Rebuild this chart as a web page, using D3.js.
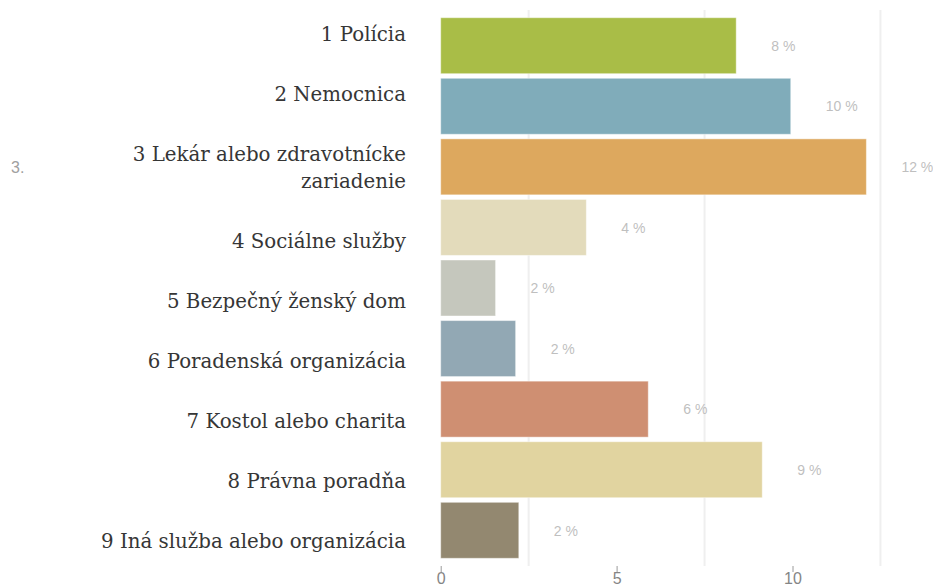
<!DOCTYPE html>
<html>
<head>
<meta charset="utf-8">
<script src="https://cdn.jsdelivr.net/npm/d3@7"></script>
<style>
  body { margin: 0; background: #fff; }
  .category { font-family: "DejaVu Serif", serif; font-size: 19.8px; fill: #363636; }
  .value-label { font-family: "Liberation Sans", Arial, sans-serif; font-size: 14px; fill: #bfbfbf; }
  .x-axis text { font-family: "Liberation Sans", Arial, sans-serif; font-size: 16px; fill: #858585; }
  .x-axis line { stroke: #9a9a9a; }
  .stray { font-family: "Liberation Sans", Arial, sans-serif; font-size: 16px; fill: #a0a0a0; }
</style>
</head>
<body>
<div id="wrapper"></div>
<script>
const categories = [
  ["1 Polícia"],
  ["2 Nemocnica"],
  ["3 Lekár alebo zdravotnícke", "zariadenie"],
  ["4 Sociálne služby"],
  ["5 Bezpečný ženský dom"],
  ["6 Poradenská organizácia"],
  ["7 Kostol alebo charita"],
  ["8 Právna poradňa"],
  ["9 Iná služba alebo organizácia"],
];
const values = [8.4, 9.95, 12.1, 4.14, 1.56, 2.13, 5.9, 9.14, 2.22];
const percentLabels = ["8 %", "10 %", "12 %", "4 %", "2 %", "2 %", "6 %", "9 %", "2 %"];
const barColors = ["#a9bd47", "#80acba", "#dda85e", "#e3dbbb", "#c5c7bd", "#92a8b4", "#cf8f72", "#e1d4a0", "#938870"];
const tickValues = [0, 5, 10];
const gridValues = [2.5, 7.5, 12.5];

function drawChart() {
  const dimensions = {
    width: 933,
    height: 587,
    barTop: 17.7,
    barBottom: 558.3,
    gridTop: 10,
    axisY: 566,
    labelRight: 406,
  };

  const svg = d3.select("#wrapper")
    .append("svg")
      .attr("width", dimensions.width)
      .attr("height", dimensions.height);

  // x(0) sits at 440.7, x(10) at 792.5
  const xScale = d3.scaleLinear()
    .domain([0, 10])
    .range([440.7, 792.5]);

  const yScale = d3.scaleBand()
    .domain(d3.range(values.length))
    .range([dimensions.barTop, dimensions.barBottom])
    .paddingInner(0.0755)
    .paddingOuter(0);

  // grid lines sit half way between the ticks
  svg.append("g")
    .selectAll("line")
    .data(gridValues)
    .join("line")
      .attr("x1", d => xScale(d))
      .attr("x2", d => xScale(d))
      .attr("y1", dimensions.gridTop)
      .attr("y2", dimensions.axisY)
      .attr("stroke", "#efefef")
      .attr("stroke-width", 2);

  svg.append("g")
    .selectAll("rect")
    .data(values)
    .join("rect")
      .attr("x", xScale(0))
      .attr("y", (d, i) => yScale(i))
      .attr("width", d => xScale(d) - xScale(0))
      .attr("height", yScale.bandwidth())
      .attr("fill", (d, i) => barColors[i])
      .attr("stroke", "rgba(255,255,255,0.45)")
      .attr("stroke-width", 1);

  svg.append("g")
    .selectAll("text")
    .data(values)
    .join("text")
      .attr("class", "value-label")
      .attr("x", d => xScale(d) + 35)
      .attr("y", (d, i) => yScale(i) + yScale.bandwidth() / 2 + 1.5)
      .attr("dominant-baseline", "middle")
      .text((d, i) => percentLabels[i]);

  // category labels flow like a list, the two line one pushes the rest down
  const lineHeight = 27.6;
  const labelStep = 60;
  let baseline = 40.7;
  const labelGroup = svg.append("g");
  categories.forEach((lines, i) => {
    const text = labelGroup.append("text")
      .attr("class", "category")
      .attr("text-anchor", "end");
    lines.forEach((line, j) => {
      text.append("tspan")
        .attr("x", dimensions.labelRight)
        .attr("y", baseline + j * lineHeight)
        .text(line);
    });
    baseline += (lines.length - 1) * lineHeight + labelStep;
  });

  const xAxis = d3.axisBottom(xScale)
    .tickValues(tickValues)
    .tickSize(6)
    .tickPadding(1);

  const axisGroup = svg.append("g")
    .attr("class", "x-axis")
    .attr("transform", `translate(0, ${dimensions.axisY})`)
    .call(xAxis);
  axisGroup.select(".domain").remove();

  svg.append("text")
    .attr("class", "stray")
    .attr("x", 11)
    .attr("y", 173)
    .text("3.");
}
drawChart();
</script>
</body>
</html>
